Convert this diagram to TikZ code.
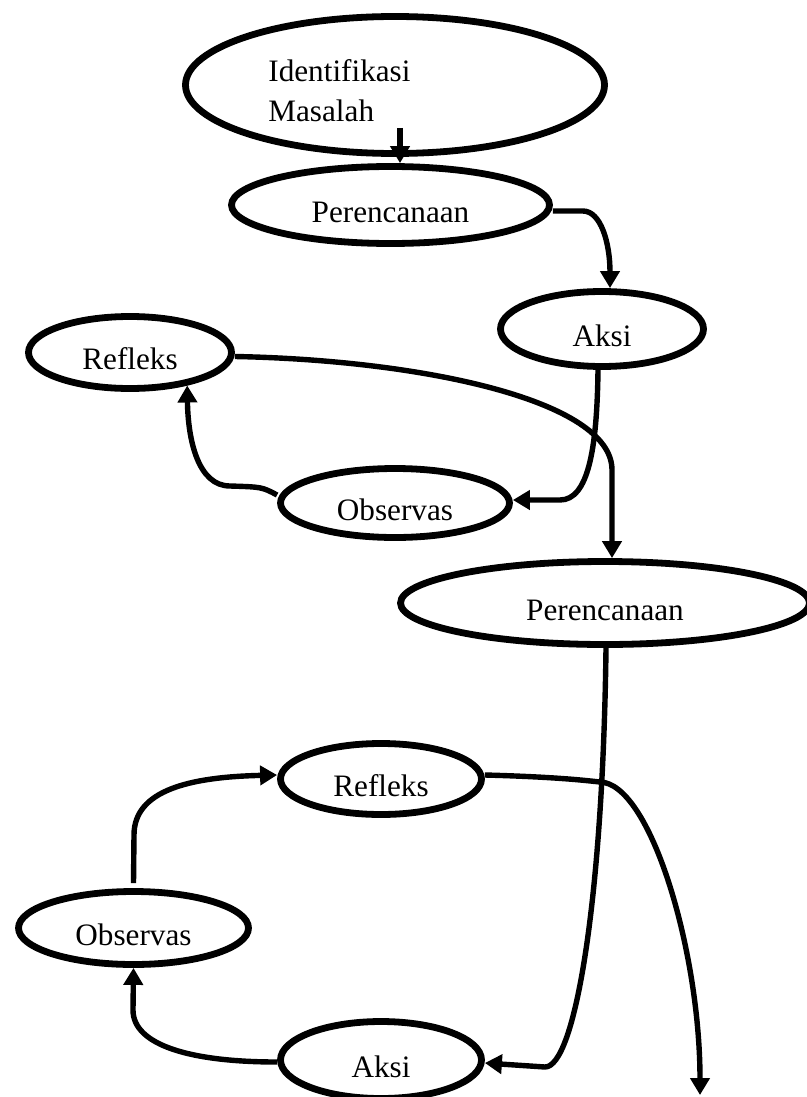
\documentclass[tikz,border=0pt]{standalone}
\usepackage{fontspec}
\setmainfont{Liberation Serif}
\usetikzlibrary{shapes.geometric, arrows.meta}
\tikzset{
  % Box styles
  cyclebox/.style={ellipse, draw=black, line width=3.4pt, inner sep=0pt, text height=17pt, text depth=0pt, font=\fontsize{15.6pt}{20pt}\selectfont},
  labeltext/.style={inner sep=0pt, align=left, font=\fontsize{15.6pt}{20pt}\selectfont},
  % Arrow styles
  flowarrow/.style={-{Triangle[length=8.5pt, width=9.5pt]}, line width=2.7pt, black}
}

\begin{document}
\begin{tikzpicture}[x=0.5pt, y=-0.5pt]
  \useasboundingbox (0,0) rectangle (807,1097);

  % First cycle
  \node[cyclebox, minimum width=209.5pt, minimum height=68.5pt] (idm) at (395,85) {};
  \node[labeltext, anchor=north west] (idmtext) at (268,59) {Identifikasi\\Masalah};
  \node[cyclebox, minimum width=159pt, minimum height=38.5pt] (per1) at (390.5,205) {Perencanaan};
  \node[cyclebox, minimum width=101.5pt, minimum height=37.5pt] (aksi1) at (602,329) {Aksi};
  \node[cyclebox, minimum width=101.5pt, minimum height=36pt] (ref1) at (130,352.5) {Refleks};
  \node[cyclebox, minimum width=114.5pt, minimum height=34.5pt] (obs1) at (395,503) {Observas};

  % Second cycle
  \node[cyclebox, minimum width=204.5pt, minimum height=41.5pt] (per2) at (605,603) {Perencanaan};
  \node[cyclebox, minimum width=100.5pt, minimum height=35.5pt] (ref2) at (381,779) {Refleks};
  \node[cyclebox, minimum width=115pt, minimum height=36.5pt] (obs2) at (133.5,928) {Observas};
  \node[cyclebox, minimum width=100.5pt, minimum height=38.5pt] (aksi2) at (381,1060) {Aksi};

  \coordinate (idmout) at (400,128);
  \coordinate (finish) at (700,1095);

  % Arrows of the first cycle
  \draw[flowarrow] (idmout) -- (idmout |- per1.north);
  \draw[flowarrow] ([yshift=-3pt]per1.east) -- ++(30,0) .. controls +(18,0) and +(0,-45) .. ([xshift=4pt]aksi1.north);
  \draw[flowarrow] ([xshift=-2pt]aksi1.south) .. controls (597,450) and (588,500) .. (560,500) -- ([yshift=1.5pt]obs1.east);
  \draw[flowarrow] ([yshift=4pt]obs1.west) .. controls (262,487) .. (230,486) .. controls (198,486) and (188,440) .. (ref1.-30);
  \draw[flowarrow] ([yshift=-2pt]ref1.east) .. controls (420,360) and (612,400) .. (612,470) -- ([xshift=3.5pt]per2.north);

  % Arrows of the second cycle
  \draw[flowarrow] ([xshift=0.5pt]per2.south) .. controls (603,900) and (575,1067) .. (545,1067) -- ([yshift=-1.5pt]aksi2.east);
  \draw[flowarrow] ([yshift=-1pt]aksi2.west) .. controls (190,1062) and (133,1045) .. (133,1010) -- (obs2.south);
  \draw[flowarrow] ([yshift=2.5pt]obs2.north) -- (134,835) .. controls (134,790) and (190,777) .. ([yshift=2pt]ref2.west);
  \draw[flowarrow] ([yshift=2pt]ref2.east) .. controls (560,777) and (590,781) .. (600,782) .. controls (650,783) and (700,950) .. (finish);
\end{tikzpicture}
\end{document}
